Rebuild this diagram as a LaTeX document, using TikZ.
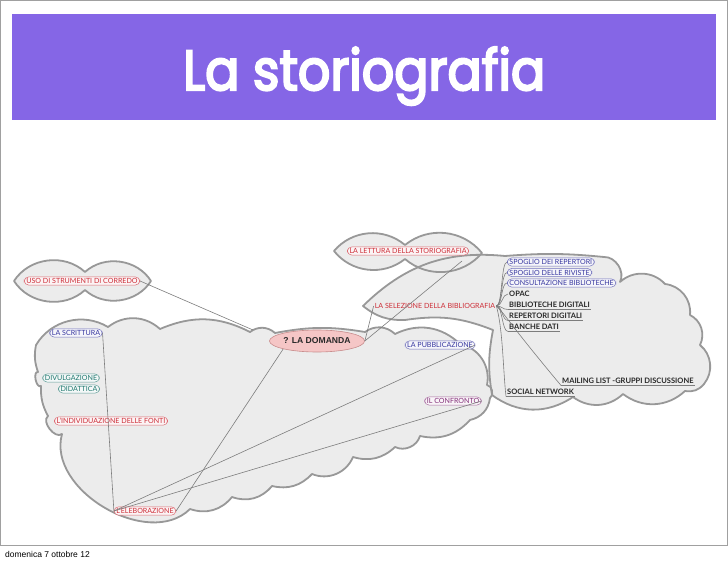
\documentclass[tikz,border=0pt]{standalone}
\usepackage{fontspec}
\usepackage{graphicx}
\setmainfont{Lato}
\newfontfamily\titlefont{Poppins}[FakeBold=4]
\newfontfamily\footfont{Liberation Sans}
\usetikzlibrary{shapes.geometric}
\definecolor{titlebg}{RGB}{133,102,230}
\definecolor{framec}{RGB}{160,160,160}
\definecolor{redtx}{RGB}{205,45,55}
\definecolor{bluetx}{RGB}{55,55,160}
\definecolor{tealtx}{RGB}{30,120,110}
\definecolor{purptx}{RGB}{130,45,120}
\definecolor{darktx}{RGB}{40,40,40}
\definecolor{cloudfill}{RGB}{236,236,236}
\definecolor{cloudline}{RGB}{152,152,152}
\definecolor{conncol}{RGB}{125,125,125}
\definecolor{domfill}{RGB}{245,198,198}
\definecolor{domline}{RGB}{200,140,140}
\tikzset{
  cloudfillst/.style={fill=cloudfill},
  cloudline/.style={draw=cloudline, line width=1.8pt, line join=round},
  conn/.style={draw=conncol, line width=0.6pt},
  pill/.style={draw=#1!70, fill=#1!5, text=#1, rounded corners=4.5pt, inner xsep=2.2pt, inner ysep=1.5pt, line width=0.5pt,
     font=\fontsize{7.1}{8}\selectfont},
  item/.style={text=darktx, inner xsep=1pt, inner ysep=1.5pt, anchor=west, font=\bfseries\fontsize{7.5}{8}\selectfont},
  bl/.style={bend left=#1},
}
\begin{document}
\begin{tikzpicture}[x=1pt,y=-1pt]
\useasboundingbox (0,0) rectangle (728,561);
\fill[white] (0,0) rectangle (728,561);
\draw[framec, line width=1pt] (0.5,0.5) rectangle (727.3,545);
\fill[titlebg] (12,14) rectangle (716,120);
\node[anchor=base west, inner sep=0, text=white] (title) at (183,90)
  {\resizebox{362pt}{43pt}{\titlefont La storiografia}};
\node[anchor=base west, inner sep=0, font=\footfont\fontsize{8.5}{10}\selectfont] (foot) at (5,557) {domenica 7 ottobre 12};

% cloud shapes
\def\leftcloud{(36,345) to[bl=45] (108,327) to[bl=40] (160,329) to[bl=25] (250,332) to[bl=40] (275,333)
  to[bl=10] (365,332) to[bl=40] (395,334) to[bl=35] (460,344) to[bl=45] (487,385) to[bl=70] (490,398)
  to[bl=35] (470,420) to[bl=30] (420,436) to[bl=50] (395,447) to[bl=30] (353,457) to[bl=45] (312,474)
  to[bl=30] (272,486) to[bl=35] (232,497) to[bl=35] (190,509) to[bl=75] (62,434) to[bl=90] (48,416)
  to[bl=15] (41,386) to[bl=110] (38,372) to[bl=15] (36,345) -- cycle}
\def\rightcloud{(363,306) to[bl=25] (505,256) to[bl=5] (604,257) to[bl=60] (620,282) to[bl=45] (665,284)
  to[bl=45] (690,315) to[bl=45] (700,345) to[bl=45] (704,384) to[bl=30] (685,391) to[bl=40] (623,394)
  to[bl=40] (573,397) to[bl=35] (492,395) to[bl=10] (493,330) to[bl=-15] (405,320) to[bl=20] (363,306) -- cycle}
\def\usocloud{(14,281) to[bl=50] (85,272) to[bl=50] (151,281) to[bl=50] (85,290) to[bl=50] (14,281) -- cycle}
\def\letcloud{(334,251) to[bl=45] (405,245) to[bl=45] (482,253) to[bl=45] (405,259) to[bl=45] (334,251) -- cycle}

\path[cloudfillst] \rightcloud;
\path[cloudfillst] \leftcloud;
\path[cloudfillst] \usocloud;
\path[cloudfillst] \letcloud;
\path[cloudline] \rightcloud;
\path[cloudline] \leftcloud;
\path[cloudline] \usocloud;
\path[cloudline] \letcloud;

% nodes
\node[pill=redtx] (uso) at (82,281) {USO DI STRUMENTI DI CORREDO};
\node[pill=redtx] (let) at (408,251) {LA LETTURA DELLA STORIOGRAFIA};
\node[text=redtx, inner sep=1pt, font=\fontsize{7.1}{8}\selectfont] (sel) at (435,306) {LA SELEZIONE DELLA BIBLIOGRAFIA};
\node[ellipse, draw=domline, fill=domfill, line width=0.6pt, minimum width=88pt, minimum height=22pt, inner sep=0pt,
  text=darktx, font=\footfont\bfseries\fontsize{8.6}{10}\selectfont] (dom) at (317,341) {? LA DOMANDA};
\node[pill=bluetx] (pub) at (440,345) {LA PUBBLICAZIONE};
\node[pill=purptx] (conf) at (453,401) {IL CONFRONTO};
\node[pill=bluetx] (scr) at (76,333) {LA SCRITTURA};
\node[pill=tealtx] (div) at (71,378) {DIVULGAZIONE};
\node[pill=tealtx] (did) at (79,389) {DIDATTICA};
\node[pill=redtx] (ind) at (111,421) {L'INDIVIDUAZIONE DELLE FONTI};
\node[pill=redtx] (ela) at (145,511) {L'ELEBORAZIONE};

\node[pill=bluetx, anchor=west] (sp1) at (507,262) {SPOGLIO DEI REPERTORI};
\node[pill=bluetx, anchor=west] (sp2) at (507,272.5) {SPOGLIO DELLE RIVISTE};
\node[pill=bluetx, anchor=west] (sp3) at (507,283) {CONSULTAZIONE BIBLIOTECHE};
\node[item] (opac) at (508,294) {OPAC};
\node[item] (bib) at (508,305) {BIBLIOTECHE DIGITALI};
\node[item] (rep) at (508,316) {REPERTORI DIGITALI};
\node[item] (ban) at (508,327) {BANCHE DATI};
\node[item] (mail) at (561,381) {MAILING LIST -GRUPPI DISCUSSIONE};
\node[item] (soc) at (506,392) {SOCIAL NETWORK};

\coordinate (usoend) at (253,330);
\coordinate (letend) at (462,261);

% underlines
\foreach \n in {bib,rep,ban,mail,soc} \draw[conn] (\n.south west) -- (\n.south east);

% connectors
\draw[conn] (uso.east) -- (usoend);
\draw[conn] (dom.east) -- (letend);
\draw[conn] (dom.east) -- (sel.west);
\draw[conn] (ela.east) -- (dom.south west);
\draw[conn] (ela.west) -- (pub.east);
\draw[conn] (ela.west) -- (conf.east);
\draw[conn] (ela.west) -- (scr.east);
\foreach \n in {sp1,sp2,sp3} \draw[conn] (sel.east) .. controls +(6,0) and +(-6,0) .. (\n.west);
\draw[conn] (sel.east) .. controls +(6,0) and +(-6,0) .. (opac.west);
\foreach \n in {bib,rep,ban} \draw[conn] (sel.east) .. controls +(6,0) and +(-6,0) .. (\n.south west);
\draw[conn] (sel.east) .. controls (503,330) and (503,370) .. (soc.south west);
\draw[conn] (sel.east) .. controls (505,314) and (508,322) .. (mail.south west);
\end{tikzpicture}
\end{document}
